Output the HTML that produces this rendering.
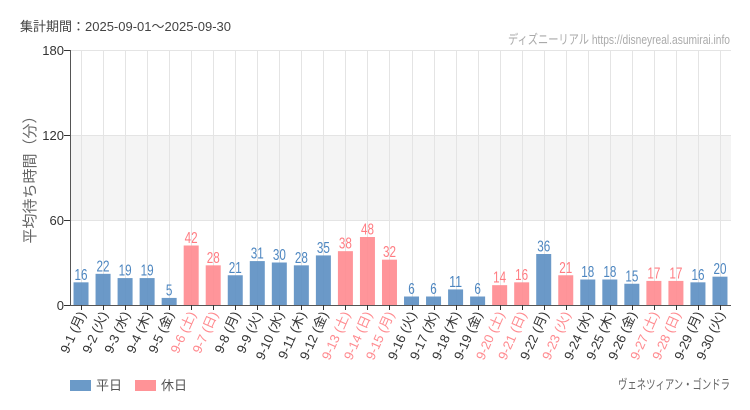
<!DOCTYPE html>
<html><head><meta charset="utf-8"><style>
html,body{margin:0;padding:0;background:#fff;}
svg{display:block;}
text{font-family:"Liberation Sans","Noto Sans CJK JP",sans-serif;}
</style></head><body>
<svg width="750" height="410" viewBox="0 0 750 410" xmlns="http://www.w3.org/2000/svg">
<rect x="0" y="0" width="750" height="410" fill="#fff"/>
<text x="20" y="31" font-size="13" fill="#444">集計期間：2025-09-01～2025-09-30</text>
<text x="730" y="44" font-size="13" fill="#aaa" text-anchor="end" textLength="222" lengthAdjust="spacingAndGlyphs">ディズニーリアル https://disneyreal.asumirai.info</text>
<!-- band -->
<rect x="70" y="135" width="661" height="85" fill="#f4f4f4"/>
<g stroke="#e4e4e4" stroke-width="1">
<line x1="70" y1="50.5" x2="731" y2="50.5"/>
<line x1="70" y1="135.5" x2="731" y2="135.5"/>
<line x1="70" y1="220.5" x2="731" y2="220.5"/>
</g>
<g id="vgrid" stroke="#e4e4e4" stroke-width="1"></g>
<g id="bars"></g>
<g id="labels"></g>
<!-- axes -->
<line x1="70.5" y1="50" x2="70.5" y2="305" stroke="#555" stroke-width="1"/>
<line x1="70" y1="305.5" x2="731" y2="305.5" stroke="#555" stroke-width="1"/>
<g stroke="#333" stroke-width="1">
<line x1="64" y1="50.5" x2="70" y2="50.5"/>
<line x1="64" y1="135.5" x2="70" y2="135.5"/>
<line x1="64" y1="220.5" x2="70" y2="220.5"/>
<line x1="64" y1="305.5" x2="70" y2="305.5"/>
</g>
<g font-size="13" fill="#333" text-anchor="end">
<text x="64" y="55">180</text>
<text x="64" y="140">120</text>
<text x="64" y="225">60</text>
<text x="64" y="310">0</text>
</g>
<g id="xticks" stroke="#333" stroke-width="1"></g>
<g id="xlabels" font-size="13"></g>
<text transform="translate(35,176) rotate(-90)" font-size="15" fill="#666" text-anchor="middle">平均待ち時間（分）</text>
<!-- legend -->
<rect x="70" y="380" width="21" height="11" fill="#6b9ac8"/>
<text x="96" y="390" font-size="13" fill="#555">平日</text>
<rect x="135" y="380" width="21" height="11" fill="#ff9397"/>
<text x="161" y="390" font-size="13" fill="#555">休日</text>
<text x="730" y="389" font-size="13" fill="#666" text-anchor="end" textLength="112" lengthAdjust="spacingAndGlyphs">ヴェネツィアン・ゴンドラ</text>
<script>
var vals=[16,22,19,19,5,42,28,21,31,30,28,35,38,48,32,6,6,11,6,14,16,36,21,18,18,15,17,17,16,20];
var hol=[0,0,0,0,0,1,1,0,0,0,0,0,1,1,1,0,0,0,0,1,1,0,1,0,0,0,1,1,0,0];
var wd=["月","火","水","木","金","土","日"];
var ns="http://www.w3.org/2000/svg";
function el(t,a,p){var e=document.createElementNS(ns,t);for(var k in a)e.setAttribute(k,a[k]);p.appendChild(e);return e;}
var vg=document.getElementById("vgrid"),bg=document.getElementById("bars"),lg=document.getElementById("labels"),xt=document.getElementById("xticks"),xl=document.getElementById("xlabels");
var step=661/30;
for(var i=0;i<30;i++){
 var cx=70+step*(i+0.5);
 var c=Math.round(cx)+0.5;
 el("line",{x1:c,y1:50,x2:c,y2:305},vg);
 var h=vals[i]*255/180;
 el("rect",{x:cx-7.5,y:305-h,width:15,height:h,fill:hol[i]?"#ff8a8f":"#5b8ec2","fill-opacity":"0.9"},bg);
 var s=String(vals[i]);
 var t=el("text",{x:cx,y:305-h-2.5,"font-size":"16","text-anchor":"middle",fill:hol[i]?"#ff7c82":"#4d86c0",textLength:s.length*6.5,lengthAdjust:"spacingAndGlyphs"},lg);
 t.textContent=s;
 el("line",{x1:c,y1:305,x2:c,y2:310},xt);
 var lab="9-"+(i+1)+" ("+wd[i%7]+")";
 var tx=el("text",{transform:"translate("+(cx+5)+",314) rotate(-66)","text-anchor":"end",fill:hol[i]?"#ff8a8f":"#333"},xl);
 tx.textContent=lab;
}
</script>
</svg>
</body></html>
